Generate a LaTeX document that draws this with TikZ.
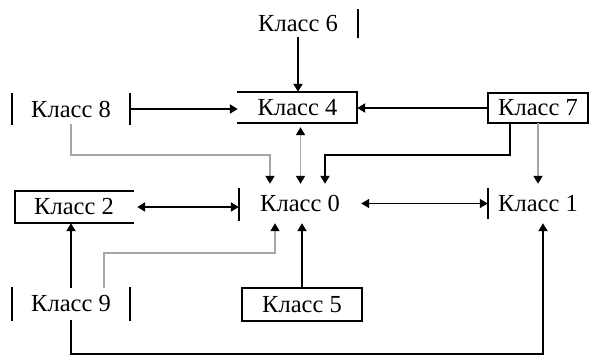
\documentclass[tikz,border=0pt]{standalone}
\usepackage{fontspec}
\setmainfont{Liberation Serif}
\usetikzlibrary{arrows.meta}
\begin{document}
\begin{tikzpicture}[x=1pt,y=-1pt,
  lbl/.style={inner sep=0pt, font=\fontsize{24.5}{29}\selectfont},
  frame/.style={line width=1.9pt, line cap=rect},
  link/.style={line width=1.9pt},
  faint/.style={line width=1.5pt, draw=black!35},
  arr/.style={-{Triangle[length=8pt,width=9pt,color=black]}},
  biarr/.style={{Triangle[length=8pt,width=9pt,color=black]}-{Triangle[length=8pt,width=9pt,color=black]}}
]
\useasboundingbox[fill=white] (0,0) rectangle (589,356);

% class labels
\node[lbl, minimum width=120pt, minimum height=27pt] (k6) at (298,23.5) {Класс 6};
\node[lbl, minimum width=119pt, minimum height=31pt] (k4) at (297.5,107.5) {Класс 4};
\node[lbl, minimum width=118pt, minimum height=30pt] (k8) at (71,109) {Класс 8};
\node[lbl, minimum width=100pt, minimum height=30pt] (k7) at (538,108) {Класс 7};
\node[lbl, minimum width=118pt, minimum height=32pt] (k2) at (74,207) {Класс 2};
\node[lbl, minimum width=122pt, minimum height=39pt] (k0) at (300,203.5) {Класс 0};
\node[lbl, minimum width=100pt, minimum height=39pt] (k1) at (538,203.5) {Класс 1};
\node[lbl, minimum width=118pt, minimum height=32pt] (k9) at (71,304) {Класс 9};
\node[lbl, minimum width=120pt, minimum height=33pt] (k5) at (302,304.5) {Класс 5};

% partial frames
\draw[frame] (k6.north east) -- (k6.south east);
\draw[frame] (k4.north west) -- (k4.north east) -- (k4.south east) -- (k4.south west);
\draw[frame] (k8.north west) -- (k8.south west) (k8.north east) -- (k8.south east);
\draw[frame] (k7.north west) rectangle (k7.south east);
\draw[frame] (k2.north east) -- (k2.north west) -- (k2.south west) -- (k2.south east);
\draw[frame] ([yshift=-5pt]k0.north west) -- ([yshift=3pt]k0.south west);
\draw[frame] ([yshift=-5pt]k1.north west) -- ([yshift=5pt]k1.south west);
\draw[frame] (k9.north west) -- (k9.south west) (k9.north east) -- (k9.south east);
\draw[frame] (k5.north west) rectangle (k5.south east);

% bend points
\coordinate (c8) at (270,155);
\coordinate (c7a) at (510,155);
\coordinate (c7b) at (325,155);
\coordinate (c9a) at (104,253);
\coordinate (c9b) at (275,253);
\coordinate (cb) at (543,354);

% connectors
\draw[link,arr] (k6.south) -- (k6.south |- k4.north);
\draw[link,arr] (k8.east) -- (k8.east -| k4.west);
\draw[link,arr] (k7.west) -- (k4.east |- k7.west);
\draw[faint,biarr] ([xshift=3pt,yshift=-4pt]k4.south) -- ([xshift=3pt]k4.south |- k0.north);
\draw[faint,arr] (k8.south) |- (c8) -- (c8 |- k0.north);
\draw[link,arr] (c7a |- k7.south) -- (c7a) -- (c7b) -- (c7b |- k0.north);
\draw[faint,arr] (k7.south) -- (k7.south |- k1.north);
\draw[link,biarr,shorten <=4pt] (k2.east) -- (k2.east -| k0.west);
\draw[line width=1.3pt,biarr] (k0.east) -- (k0.east -| k1.west);
\draw[link,arr] (k9.north) -- (k9.north |- k2.south);
\draw[faint,arr] (c9a |- k9.north) -- (c9a) -- (c9b) -- (c9b |- k0.south);
\draw[link,arr] (k5.north) -- (k5.north |- k0.south);
\draw[link,arr] (k9.south) |- (cb) -- (cb |- k1.south);
\end{tikzpicture}
\end{document}
